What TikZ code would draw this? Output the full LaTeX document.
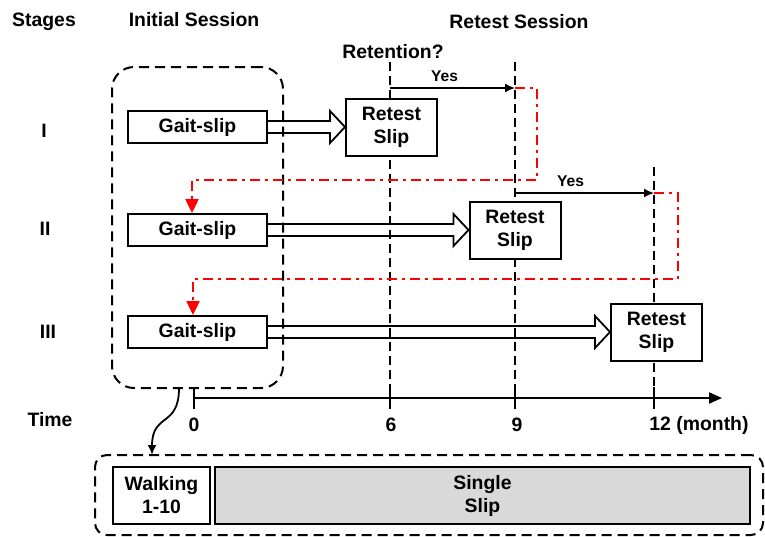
\documentclass[tikz,border=0pt]{standalone}
\usepackage{fontspec}
\setmainfont{Liberation Sans}
\usetikzlibrary{arrows.meta,calc}
\definecolor{slipgray}{RGB}{217,217,217}
\definecolor{retred}{RGB}{255,0,0}

% outlined block arrow from one box to the next
\newcommand{\hollowarr}[2]{%
  \draw[harr] ($(#1.east)+(0,-6)$) -- ($(#2.west)+(-15,-6)$) -- ($(#2.west)+(-15,-16)$)
    -- (#2.west) -- ($(#2.west)+(-15,16)$) -- ($(#2.west)+(-15,6)$) -- ($(#1.east)+(0,6)$);}

\begin{document}
\begin{tikzpicture}[x=0.5pt, y=-0.5pt,
  lbl/.style={font=\bfseries\fontsize{9.7}{11.5}\selectfont, inner sep=0pt, align=center},
  box/.style={draw, line width=1pt, fill=white, inner sep=0pt,
    font=\bfseries\fontsize{9.7}{11.5}\selectfont, align=center},
  gait/.style={box, minimum width=69.5pt, minimum height=16pt},
  retest/.style={box, minimum width=45.5pt, minimum height=28.5pt},
  guide/.style={line width=0.9pt, dash pattern=on 4.5pt off 2.5pt},
  session/.style={draw, line width=1pt, dash pattern=on 5pt off 3pt, rounded corners=11pt,
    inner sep=0pt},
  harr/.style={line width=0.9pt},
  yes/.style={-{Latex[length=5pt, width=4.5pt]}, line width=0.8pt},
  yeslbl/.style={font=\bfseries\fontsize{7.8}{8.5}\selectfont, inner sep=0pt},
  redpath/.style={retred, line width=1.2pt, dash pattern=on 5pt off 2.5pt on 1.5pt off 2.5pt,
    -{Triangle[length=7pt, width=6.5pt]}},
  axis/.style={line width=1pt, -{Triangle[length=6.5pt, width=5.5pt]}}]
\useasboundingbox (0,0) rectangle (765,536);
% Headings
\node[lbl] (stages) at (44,22) {Stages};
\node[lbl] (initial) at (194,20) {Initial Session};
\node[lbl] (retsess) at (519,22) {Retest Session};
\node[lbl] (retention) at (393,52) {Retention?};
\node[lbl] (s1) at (44,131) {I};
\node[lbl] (s2) at (45,229) {II};
\node[lbl] (s3) at (48,332) {III};
\node[lbl] (time) at (50,420) {Time};
% Time guides
\draw[guide] (390,62) -- (390,398);
\draw[guide] (515,62) -- (515,398);
\draw[guide] (654,167) -- (654,398);
% Initial session frame
\node[session, minimum width=85.5pt, minimum height=160.5pt] (init) at (197.5,227.5) {};
% Stage I
\node[gait] (g1) at (197.5,127) {Gait-slip};
\node[retest] (r1) at (391.5,127) {Retest\\Slip};
\hollowarr{g1}{r1}
% Stage II
\node[gait] (g2) at (197.5,230) {Gait-slip};
\node[retest] (r2) at (515,230) {Retest\\Slip};
\hollowarr{g2}{r2}
% Stage III
\node[gait] (g3) at (197.5,332) {Gait-slip};
\node[retest] (r3) at (656.5,332) {Retest\\Slip};
\hollowarr{g3}{r3}
% Retention answers
\coordinate (y1a) at (390,88);
\coordinate (y1b) at (515,88);
\draw[yes] (y1a) -- (y1b) node[yeslbl, midway, above=3pt, xshift=-4pt] {Yes};
\coordinate (y2a) at (515,193);
\coordinate (y2b) at (654,193);
\draw[yes] (y2a) -- (y2b) node[yeslbl, midway, above=3pt, xshift=-7pt] {Yes};
% Back to next stage
\coordinate (turn2) at (192,180);
\coordinate (turn3) at (193,279);
\draw[redpath] (y1b) -- ++(22,0) |- (turn2) -- (turn2 |- g2.north);
\draw[redpath] (y2b) -- ++(24,0) |- (turn3) -- (turn3 |- g3.north);
% Time axis
\coordinate (t0) at (194,398);
\coordinate (tend) at (722,398);
\draw[axis] (t0) -- (tend);
\foreach \x in {194,390,515,654}
  \draw[line width=1pt] (\x,387) -- (\x,409);
\node[lbl] (l0) at (194,425) {0};
\node[lbl] (l6) at (391,425) {6};
\node[lbl] (l9) at (517,425) {9};
\node[lbl, anchor=west] (l12) at (649,425) {12 (month)};
% Session detail
\node[session, rounded corners=6pt, minimum width=334pt, minimum height=40pt] (detail) at (429,495) {};
\node[box, minimum width=48.5pt, minimum height=28.5pt] (walk) at (161.5,495.5) {Walking\\1-10};
\node[box, fill=slipgray, minimum width=267.5pt, minimum height=28.5pt] (single) at (482.5,495.5) {Single\\Slip};
\coordinate (zstart) at (179,388);
\coordinate (zend) at (152,455);
\draw[line width=0.9pt, -{Latex[length=5pt, width=4.5pt]}] (zstart) .. controls (179,428) and (152,412) .. (zend);
\end{tikzpicture}
\end{document}
